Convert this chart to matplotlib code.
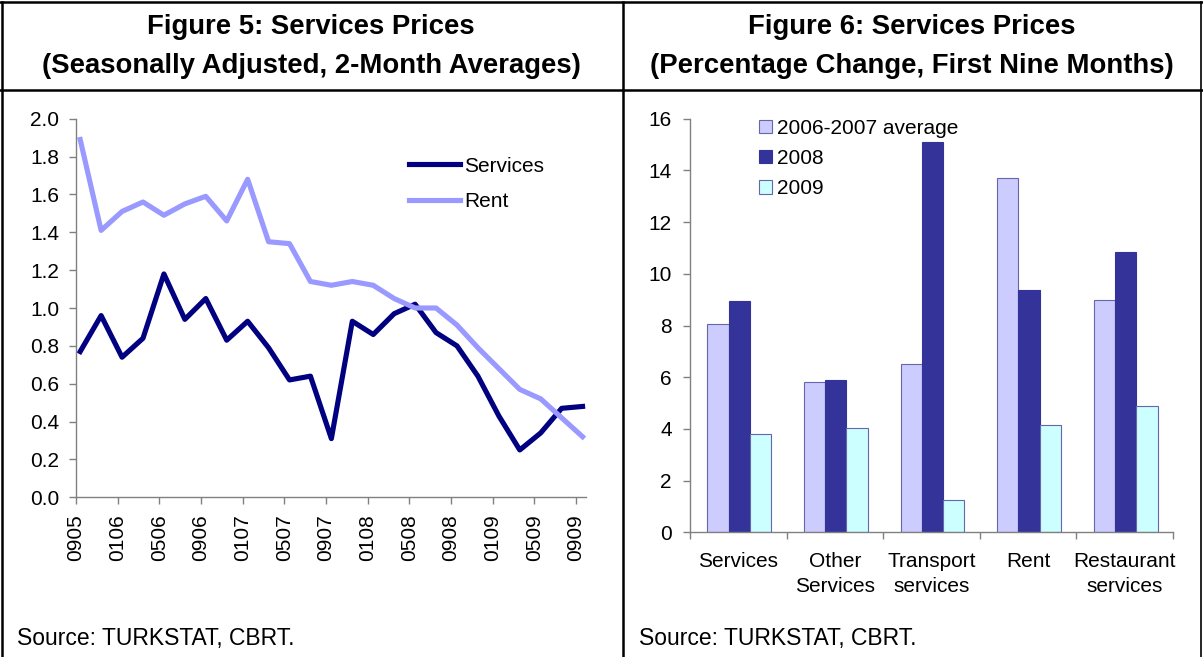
import numpy as np
import matplotlib
matplotlib.use('Agg')
import matplotlib.pyplot as plt
from matplotlib.lines import Line2D

plt.rcParams['font.family'] = ['Liberation Sans', 'DejaVu Sans']

# Figure 5 data: 2-month averages, Sep 2005 .. Sep 2009
services = [0.77, 0.96, 0.74, 0.84, 1.18, 0.94, 1.05, 0.83, 0.93, 0.79, 0.62, 0.64, 0.31,
            0.93, 0.86, 0.97, 1.02, 0.87, 0.80, 0.64, 0.43, 0.25, 0.34, 0.47, 0.48]
rent = [1.89, 1.41, 1.51, 1.56, 1.49, 1.55, 1.59, 1.46, 1.68, 1.35, 1.34, 1.14, 1.12,
        1.14, 1.12, 1.05, 1.00, 1.00, 0.91, 0.79, 0.68, 0.57, 0.52, 0.42, 0.32]
tick_labels = ['0905', '0106', '0506', '0906', '0107', '0507', '0907',
               '0108', '0508', '0908', '0109', '0509', '0909']

# Figure 6 data
categories = ['Services', 'Other\nServices', 'Transport\nservices', 'Rent', 'Restaurant\nservices']
avg_0607 = [8.05, 5.8, 6.5, 13.7, 8.98]
y2008 = [8.95, 5.9, 15.11, 9.38, 10.85]
y2009 = [3.81, 4.04, 1.25, 4.15, 4.89]

W, H = 1203, 657
fig = plt.figure(figsize=(W / 100, H / 100), dpi=100)

def fx(px):
    return px / W

def fy(py):
    return 1 - py / H

# panel borders
border = dict(color='black', lw=1.8, transform=fig.transFigure)
fig.add_artist(Line2D([fx(1.5), fx(1.5)], [0, fy(1.5)], **border))
fig.add_artist(Line2D([fx(1200.5), fx(1200.5)], [0, fy(1.5)], color='black', lw=1.2, transform=fig.transFigure))
fig.add_artist(Line2D([fx(622.5), fx(622.5)], [0, fy(1.5)], **border))
fig.add_artist(Line2D([0, 1], [fy(1.5), fy(1.5)], **border))
fig.add_artist(Line2D([0, 1], [fy(90), fy(90)], **border))

# titles
fig.text(fx(311), fy(34), 'Figure 5: Services Prices', ha='center', va='baseline',
         fontsize=19.8, fontweight='bold')
fig.text(fx(311), fy(73), '(Seasonally Adjusted, 2-Month Averages)', ha='center', va='baseline',
         fontsize=19.8, fontweight='bold')
fig.text(fx(911.5), fy(34), 'Figure 6: Services Prices', ha='center', va='baseline',
         fontsize=19.8, fontweight='bold')
fig.text(fx(911.5), fy(73), '(Percentage Change, First Nine Months)', ha='center', va='baseline',
         fontsize=19.8, fontweight='bold')

fig.text(fx(17), fy(645), 'Source: TURKSTAT, CBRT.', ha='left', va='baseline', fontsize=16.5)
fig.text(fx(639), fy(645), 'Source: TURKSTAT, CBRT.', ha='left', va='baseline', fontsize=16.5)

spine_col = '#808080'

# ---- left chart ----
ax1 = fig.add_axes([fx(76), fy(497.3), fx(585.7) - fx(76), fy(118.7) - fy(497.3)])
x = np.arange(len(services))
ax1.plot(x, services, color='#000080', lw=3.7, label='Services')
ax1.plot(x, rent, color='#9999FF', lw=3.7, label='Rent')
ax1.set_xlim(-0.2, 24.15)
ax1.set_ylim(0, 2.0)
ax1.set_yticks(np.arange(0, 2.01, 0.2))
ax1.set_yticklabels(['%.1f' % v for v in np.arange(0, 2.01, 0.2)])
ax1.set_xticks(np.arange(len(tick_labels)) * 1.99 - 0.2)
ax1.set_xticklabels(tick_labels, rotation=90)
for s in ['top', 'right']:
    ax1.spines[s].set_visible(False)
for s in ['left', 'bottom']:
    ax1.spines[s].set_color(spine_col)
    ax1.spines[s].set_linewidth(1.0)
ax1.tick_params(axis='both', colors=spine_col, labelcolor='black', length=5, width=1.0,
                labelsize=15)
ax1.tick_params(axis='y', pad=7)
ax1.tick_params(axis='x', pad=7)
ax1.legend(loc='upper left', bbox_to_anchor=(0.653, 0.90), frameon=False, fontsize=15,
           handlelength=2.45, handletextpad=0.2, labelspacing=0.8, borderpad=0,
           borderaxespad=0)

# ---- right chart ----
ax2 = fig.add_axes([fx(690), fy(532.3), fx(1173) - fx(690), fy(118.7) - fy(532.3)])
pos = np.arange(len(categories)) + 0.51
bw = 0.22
edge = '#6666AA'
ax2.bar(pos - bw, avg_0607, bw, color='#CCCCFF', edgecolor=edge, lw=0.8, label='2006-2007 average')
ax2.bar(pos, y2008, bw, color='#333399', edgecolor='#333399', lw=0.8, label='2008')
ax2.bar(pos + bw, y2009, bw, color='#CCFFFF', edgecolor=edge, lw=0.8, label='2009')
ax2.set_xlim(0, 5)
ax2.set_ylim(0, 16)
ax2.set_yticks(np.arange(0, 17, 2))
ax2.set_xticks(np.arange(0, 6))
ax2.set_xticklabels([])
ax2.set_xticks(np.arange(len(categories)) + 0.5, minor=True)
ax2.set_xticklabels(categories, minor=True, fontsize=15, linespacing=1.45)
ax2.tick_params(axis='x', which='minor', length=0, pad=14)
for s in ['top', 'right']:
    ax2.spines[s].set_visible(False)
for s in ['left', 'bottom']:
    ax2.spines[s].set_color(spine_col)
    ax2.spines[s].set_linewidth(1.0)
ax2.tick_params(axis='both', which='major', colors=spine_col, labelcolor='black', length=5,
                width=1.0, labelsize=15, pad=8)
ax2.legend(loc='upper left', bbox_to_anchor=(0.143, 1.0), frameon=False, fontsize=15,
           handlelength=0.63, handleheight=0.63, handletextpad=0.25, labelspacing=0.54,
           borderpad=0, borderaxespad=0)

fig.savefig('out.png', dpi=100)
